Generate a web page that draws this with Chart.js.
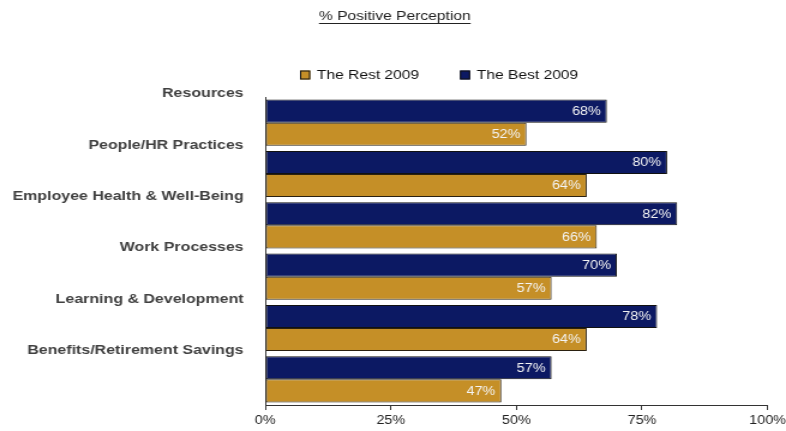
<!DOCTYPE html>
<html>
<head>
<meta charset="utf-8">
<script src="https://cdn.jsdelivr.net/npm/chart.js@4.4.1/dist/chart.umd.min.js"></script>
<style>
  html, body { margin: 0; padding: 0; background: #fff; overflow: hidden; }
  /* chart is drawn narrow and widened to the page, like the original slide */
  #wrap { width: 658px; height: 431px; transform: scaleX(1.2); transform-origin: 0 0; }
</style>
</head>
<body>
<div id="wrap"><canvas id="chart" width="658" height="431"></canvas></div>
<script>
const categories = [
  "Resources",
  "People/HR Practices",
  "Employee Health & Well-Being",
  "Work Processes",
  "Learning & Development",
  "Benefits/Retirement Savings"
];
const best2009 = [68, 80, 82, 70, 78, 57];
const rest2009 = [52, 64, 66, 57, 64, 47];
const xTicks = [0, 25, 50, 75, 100];

const NAVY = "#0c1963";
const GOLD = "#c58f27";
const FONT = "'Liberation Sans', Arial, sans-serif";

// underlined heading
const titlePlugin = {
  id: "heading",
  afterDraw(chart) {
    const ctx = chart.ctx;
    const text = "% Positive Perception";
    ctx.save();
    ctx.font = "13px " + FONT;
    ctx.fillStyle = "#222";
    ctx.textAlign = "center";
    ctx.textBaseline = "middle";
    const cx = 329, cy = 16;
    ctx.fillText(text, cx, cy);
    const w = ctx.measureText(text).width;
    ctx.strokeStyle = "#222";
    ctx.lineWidth = 1;
    ctx.beginPath();
    ctx.moveTo(cx - w / 2, cy + 7.5);
    ctx.lineTo(cx + w / 2, cy + 7.5);
    ctx.stroke();
    ctx.restore();
  }
};

// legend row: Rest first, then Best
const legendPlugin = {
  id: "legendRow",
  afterDraw(chart) {
    const ctx = chart.ctx;
    const items = chart.data.datasets.slice().reverse();
    let x = 250;
    const y = 75;
    ctx.save();
    ctx.font = "13px " + FONT;
    ctx.textBaseline = "middle";
    ctx.textAlign = "left";
    items.forEach(ds => {
      ctx.fillStyle = ds.backgroundColor;
      ctx.fillRect(x, y - 4.5, 8.5, 9);
      ctx.strokeStyle = "#111";
      ctx.lineWidth = 1;
      ctx.strokeRect(x + 0.5, y - 4, 7.5, 8);
      ctx.fillStyle = "#111";
      ctx.fillText(ds.label, x + 14, y);
      x += 14 + ctx.measureText(ds.label).width + 34;
    });
    ctx.restore();
  }
};

// value labels inside the bar ends
const valuePlugin = {
  id: "barValues",
  afterDatasetsDraw(chart) {
    const ctx = chart.ctx;
    ctx.save();
    ctx.font = "12px " + FONT;
    ctx.fillStyle = "#f4f4f4";
    ctx.textAlign = "right";
    ctx.textBaseline = "middle";
    chart.data.datasets.forEach((ds, i) => {
      chart.getDatasetMeta(i).data.forEach((bar, j) => {
        ctx.fillText(ds.data[j] + "%", bar.x - 5, bar.y + 0.5);
      });
    });
    ctx.restore();
  }
};

new Chart(document.getElementById("chart"), {
  type: "bar",
  data: {
    labels: categories,
    datasets: [
      {
        label: "The Best 2009",
        data: best2009,
        backgroundColor: NAVY,
        borderColor: "#111",
        borderWidth: 1,
        borderSkipped: false,
        categoryPercentage: 0.9,
        barPercentage: 1
      },
      {
        label: "The Rest 2009",
        data: rest2009,
        backgroundColor: GOLD,
        borderColor: "#2a2010",
        borderWidth: 1,
        borderSkipped: false,
        categoryPercentage: 0.9,
        barPercentage: 1
      }
    ]
  },
  options: {
    indexAxis: "y",
    responsive: false,
    animation: false,
    layout: { padding: { top: 97, right: 13, left: 0, bottom: 0 } },
    plugins: {
      legend: { display: false },
      tooltip: { enabled: false }
    },
    scales: {
      x: {
        min: 0,
        max: 100,
        afterBuildTicks(scale) {
          scale.ticks = xTicks.map(v => ({ value: v }));
        },
        afterFit(scale) { scale.height = 22; },
        ticks: {
          color: "#222",
          font: { family: FONT, size: 12 },
          padding: 3,
          callback: v => v + "%"
        },
        grid: { drawOnChartArea: false, drawTicks: true, tickLength: 5, color: "#333" },
        border: { color: "#333", width: 1 }
      },
      y: {
        afterFit(scale) { scale.width = 221; },
        ticks: {
          color: "#404040",
          font: { family: FONT, size: 13.3, weight: "bold" },
          padding: 18,
          labelOffset: -29
        },
        grid: { display: false, drawTicks: false },
        border: { color: "#333", width: 1 }
      }
    }
  },
  plugins: [titlePlugin, legendPlugin, valuePlugin]
});
</script>
</body>
</html>
